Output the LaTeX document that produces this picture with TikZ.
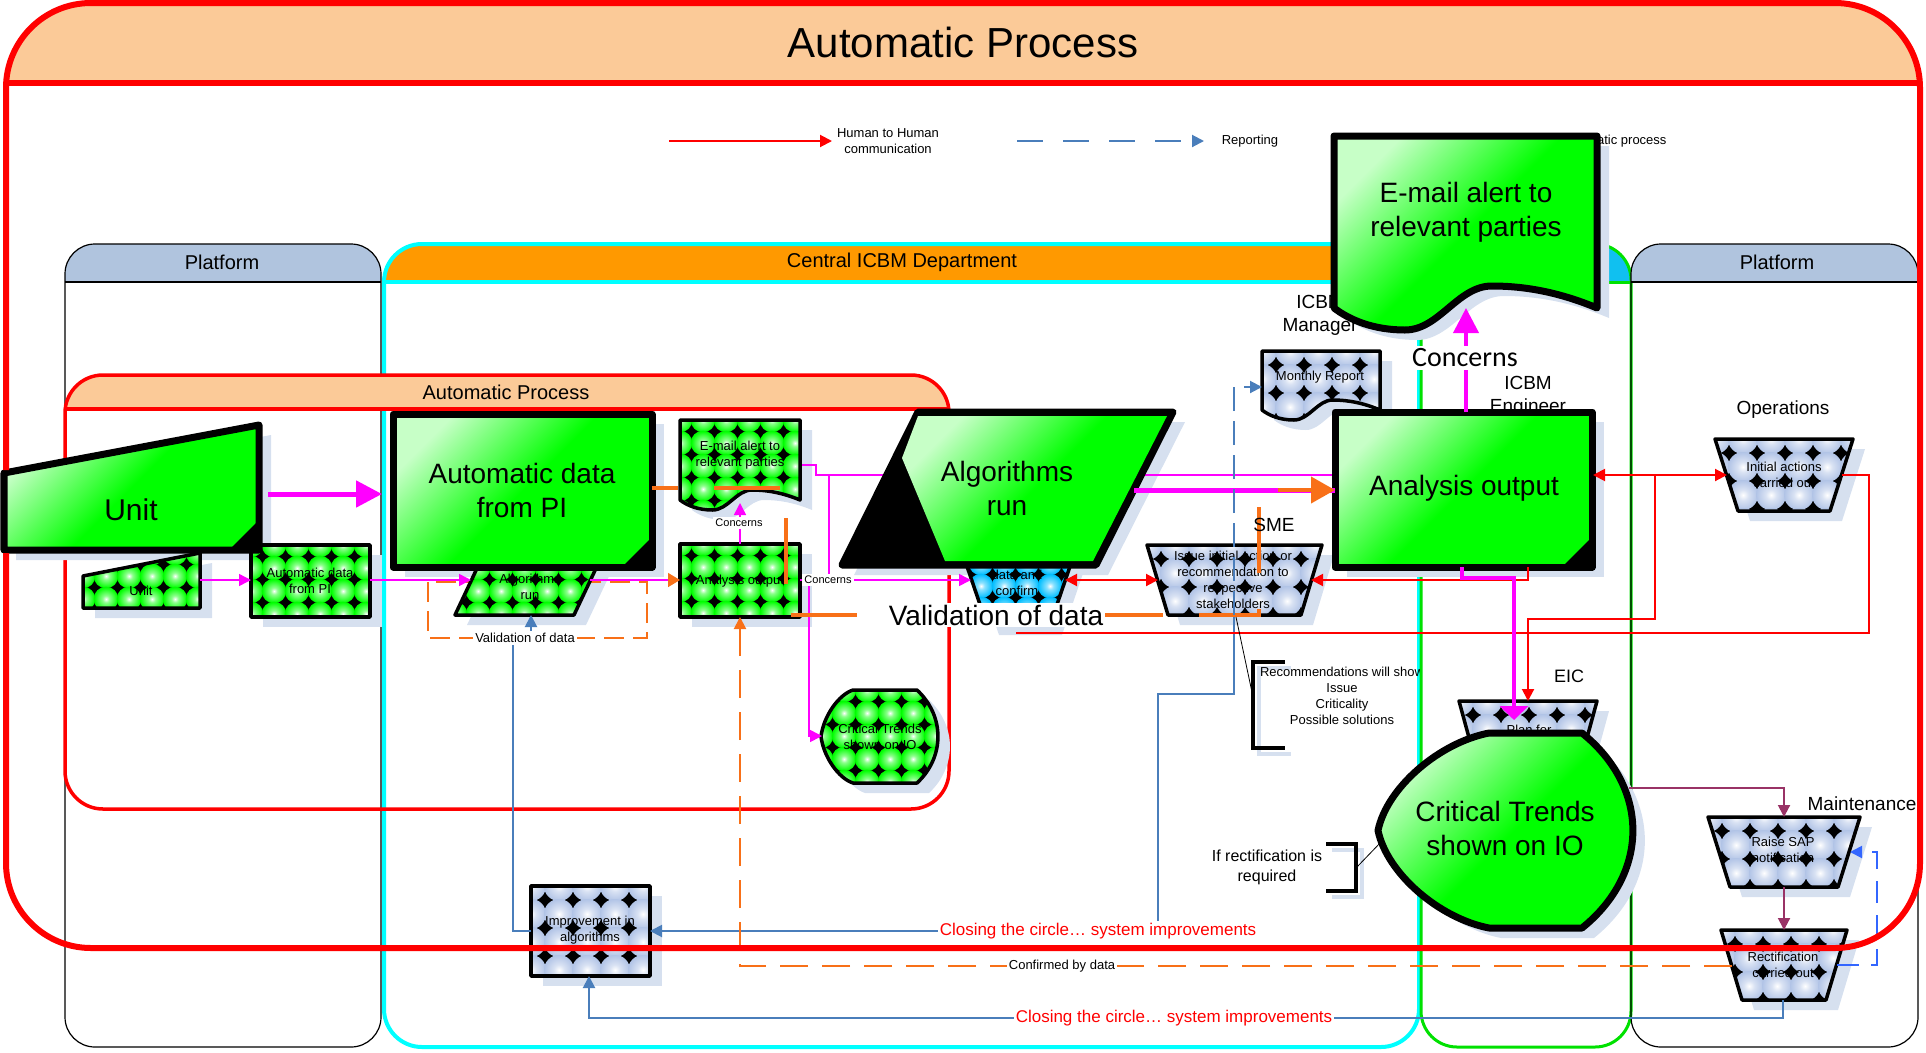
\documentclass[tikz,border=0pt]{standalone}
\usepackage{fontspec}
\setmainfont{Liberation Sans}
\newfontfamily\calibfont{Carlito}
\usetikzlibrary{arrows.meta}
\definecolor{peach}{RGB}{251,202,152}
\definecolor{hdblue}{RGB}{176,196,222}
\definecolor{hdorange}{RGB}{255,153,0}
\definecolor{hdsky}{RGB}{16,192,240}
\definecolor{lanecyan}{RGB}{0,255,255}
\definecolor{lanegreen}{RGB}{0,225,0}
\definecolor{shadowc}{RGB}{214,224,239}
\definecolor{lgreen}{RGB}{0,255,0}
\definecolor{ballblue}{RGB}{170,190,228}
\definecolor{ballsky}{RGB}{0,190,255}
\definecolor{mag}{RGB}{255,0,255}
\definecolor{orng}{RGB}{248,112,24}
\definecolor{rep}{RGB}{74,126,187}
\definecolor{dashblue}{RGB}{51,102,255}
\definecolor{maint}{RGB}{153,51,102}
\pgfdeclarelayer{lanes}
\pgfdeclarelayer{shd}
\pgfsetlayers{lanes,shd,main}
% bubbles for the pattern fills
\pgfdeclareradialshading{gball}{\pgfpoint{0bp}{0bp}}{color(0bp)=(white); color(7bp)=(lgreen!45!white); color(24bp)=(lgreen); color(50bp)=(lgreen!65!black)}
\pgfdeclareradialshading{bball}{\pgfpoint{0bp}{0bp}}{color(0bp)=(white); color(9bp)=(ballblue!45!white); color(28bp)=(ballblue); color(50bp)=(ballblue!65!black)}
\pgfdeclareradialshading{sball}{\pgfpoint{0bp}{0bp}}{color(0bp)=(white); color(7bp)=(ballsky!45!white); color(24bp)=(ballsky); color(50bp)=(ballsky!65!black)}
% shape with its drop shadow
\newcommand{\shp}[2]{\begin{pgfonlayer}{shd}\fill[shadowc,shift={(12,10)}] #2;\end{pgfonlayer} \path[#1] #2;}
% trapezoid: left, right, top y, inset, bottom y
\newcommand{\trap}[5]{(#1,#3) -- (#2,#3) -- ({#2-#4},#5) -- ({#1+#4},#5) -- cycle}
% document with wavy bottom: x0, x1, top, bottom, wave height
\newcommand{\docpath}[5]{(#1,#3) -- (#2,#3) -- (#2,#4)
  .. controls ({#2-0.14*(#2-#1)},{#4-0.7*#5}) and ({#1+0.73*(#2-#1)},{#4-#5}) .. ({#1+0.6*(#2-#1)},{#4-#5})
  .. controls ({#1+0.47*(#2-#1)},{#4-#5}) and ({#1+0.4*(#2-#1)},{#4+#5}) .. ({#1+0.27*(#2-#1)},{#4+#5})
  .. controls ({#1+0.15*(#2-#1)},{#4+#5}) and ({#1+0.06*(#2-#1)},{#4+0.55*#5}) .. (#1,#4) -- cycle}
% display shape: point x, flat start, flat end, right bulge, top, bottom
\newcommand{\disp}[6]{(#2,#5) -- (#3,#5)
  .. controls ({#3+1.33*(#4-#3)},{#5+0.28*(#6-#5)}) and ({#3+1.33*(#4-#3)},{#6-0.28*(#6-#5)}) .. (#3,#6) -- (#2,#6)
  .. controls ({#2-0.45*(#2-#1)},{#6-0.05*(#6-#5)}) and ({#1+0.08*(#2-#1)},{#6-0.28*(#6-#5)}) .. (#1,{(#5+#6)/2})
  .. controls ({#1+0.08*(#2-#1)},{#5+0.28*(#6-#5)}) and ({#2-0.45*(#2-#1)},{#5+0.05*(#6-#5)}) .. (#2,#5) -- cycle}

\begin{document}
\begin{tikzpicture}[x=1pt,y=-1pt,
  bigg/.style={draw=black,line width=7pt,line join=round,top color=green!22!white,bottom color=lgreen,middle color=lgreen,shading angle=45},
  balls/.style n args={4}{draw=black,line width=3.5pt,line join=round,path picture={
      \fill[black] (path picture bounding box.south west) rectangle (path picture bounding box.north east);
      \foreach \i in {0,...,9}{\foreach \j in {0,...,5}{
        \shade[shading=#1] ([xshift=\i*#2pt,yshift=-\j*#3pt]path picture bounding box.north west) circle[radius=#4pt];}}}},
  gballs/.style={balls={gball}{23}{23}{12.3}},
  bballs/.style={balls={bball}{28}{28}{15}},
  sballs/.style={balls={sball}{23}{23}{12.3}},
  st/.style={font=\fontsize{13}{16}\selectfont,align=center,inner sep=0pt},
  bt/.style={font=\fontsize{28}{34}\selectfont,align=center,inner sep=0pt},
  lbl/.style={font=\fontsize{19}{23}\selectfont,align=center,inner sep=1pt},
  wlbl/.style={fill=white,inner sep=2pt},
  hd/.style={font=\fontsize{20}{24}\selectfont},
  mg/.style={draw=mag,line width=1.5pt},
  rd/.style={draw=red,line width=2pt},
  bl/.style={draw=rep,line width=2pt},
  pu/.style={draw=maint,line width=2pt},
  ah/.style={-{Triangle[length=12pt,width=12pt]}},
  ahh/.style={{Triangle[length=12pt,width=12pt]}-{Triangle[length=12pt,width=12pt]}},
  brk/.style={draw=black,line width=4pt},
]
\useasboundingbox (0,0) rectangle (1926,1052);

\begin{pgfonlayer}{lanes}
% outer process band
\begin{scope}
  \clip[rounded corners=85pt] (6,3) rectangle (1920,948);
  \fill[peach] (0,0) rectangle (1926,82);
\end{scope}
\node[font=\fontsize{42}{46}\selectfont] (title) at (963,42) {Automatic Process};

% legend
\coordinate (lgHa) at (669,141); \coordinate (lgHb) at (832,141);
\draw[rd,ah] (lgHa) -- (lgHb);
\node[st] (lgH) at (888,141) {Human to Human\\communication};
\coordinate (lgRa) at (1017,141); \coordinate (lgRb) at (1204,141);
\draw[bl,dash pattern=on 26pt off 20pt,ah] (lgRa) -- (lgRb);
\node[st] (lgR) at (1250,141) {Reporting};
\node[st] (lgA) at (1613,141) {Automatic process};

% swimlanes
\begin{scope}
  \clip[rounded corners=30pt] (65,244) rectangle (381,1047);
  \fill[hdblue] (65,244) rectangle (381,282);
\end{scope}
\draw[line width=1.2pt,rounded corners=30pt] (65,244) rectangle (381,1047);
\draw[line width=1.2pt] (65,282) -- (381,282);
\node[hd] (platL) at (222,262) {Platform};

\begin{scope}
  \clip[rounded corners=38pt] (384,244) rectangle (1419,1047);
  \fill[hdorange] (384,244) rectangle (1419,282);
\end{scope}
\draw[lanecyan,line width=4pt,rounded corners=38pt] (384,244) rectangle (1419,1047);
\draw[lanecyan,line width=4pt] (384,282) -- (1419,282);
\node[hd] (central) at (902,262) {Central ICBM Department};

\begin{scope}
  \clip[rounded corners=36pt] (1421,244) rectangle (1631,1047);
  \fill[hdsky] (1421,244) rectangle (1631,282);
\end{scope}
\draw[lanegreen,line width=3pt,rounded corners=36pt] (1421,244) rectangle (1631,1047);
\draw[lanegreen,line width=3pt] (1421,282) -- (1631,282);

\begin{scope}
  \clip[rounded corners=30pt] (1631,244) rectangle (1918,1047);
  \fill[hdblue] (1631,244) rectangle (1918,282);
\end{scope}
\draw[line width=1.2pt,rounded corners=30pt] (1631,244) rectangle (1918,1047);
\draw[line width=1.2pt] (1631,282) -- (1918,282);
\node[hd] (platR) at (1777,262) {Platform};

% inner automatic process
\begin{scope}
  \clip[rounded corners=38pt] (65,375) rectangle (949,809);
  \fill[peach] (65,375) rectangle (949,409);
\end{scope}
\draw[red,line width=3.5pt,rounded corners=38pt] (65,375) rectangle (949,809);
\draw[red,line width=3.5pt] (65,409) -- (949,409);
\node[hd] (autoProc) at (506,392) {Automatic Process};
\end{pgfonlayer}

% connection points
\coordinate (unitB-e) at (259,494);  \coordinate (autoB-w) at (393,494);
\coordinate (autoB-e) at (652,488);
\coordinate (unitS-e) at (200,580);  \coordinate (autoS-w) at (251,580);
\coordinate (autoS-e) at (370,580);  \coordinate (algS-w) at (471,580);
\coordinate (algS-e) at (590,580);   \coordinate (algS-s) at (531,615);
\coordinate (emailS-e) at (800,465); \coordinate (emailS-s) at (740,503);
\coordinate (anaS-w) at (680,580);   \coordinate (anaS-e) at (800,580);
\coordinate (anaS-n) at (740,544);   \coordinate (anaS-s) at (740,617);
\coordinate (critS-w) at (822,736);
\coordinate (datS-w) at (971,580);   \coordinate (datS-e) at (1065,580);
\coordinate (algB-e) at (1134,490);
\coordinate (anaB-w) at (1335,475);  \coordinate (anaB-w2) at (1335,490);
\coordinate (anaB-n) at (1466,412);  \coordinate (anaB-s) at (1462,567);
\coordinate (anaB-s2) at (1528,567); \coordinate (anaB-e) at (1593,475);
\coordinate (emailB-s) at (1466,308);
\coordinate (monthS-w) at (1262,387);
\coordinate (issueS-w) at (1158,580); \coordinate (issueS-e) at (1311,580);
\coordinate (issueS-s) at (1234,615);
\coordinate (initS-w) at (1727,475); \coordinate (initS-e) at (1842,475);
\coordinate (planS-n) at (1528,701); \coordinate (planS-c) at (1514,720);
\coordinate (critB-e) at (1629,788); \coordinate (critB-w) at (1381,842);
\coordinate (raiseS-n) at (1784,817); \coordinate (raiseS-s) at (1784,887);
\coordinate (raiseS-e) at (1850,852);
\coordinate (rectS-n) at (1784,930); \coordinate (rectS-s) at (1783,1000);
\coordinate (rectS-w) at (1732,966); \coordinate (rectS-e) at (1837,965);
\coordinate (impS-w) at (531,931);   \coordinate (impS-e) at (650,931);
\coordinate (impS-s) at (589,976);
\coordinate (recBrk) at (1253,697);  \coordinate (ifBrk) at (1356,868);
\coordinate (redEnd) at (1016,633);

% connectors running behind the shapes
\draw[orng,line width=2pt,dash pattern=on 20pt off 9pt] (428,582) rectangle (647,638);
\draw[mg] (emailS-e) -- (816,465) -- (816,475) -- (anaB-w);
\draw[mg] (829,475) -- (829,580);

% labels partly hidden by shapes
\node[lbl] (icbmM) at (1320,315) {ICBM\\Manager};
\node[lbl] (icbmE) at (1528,396) {ICBM\\Engineer};

% small process shapes
\shp{gballs}{(83,576) -- (200,553) -- (200,608) -- (83,608) -- cycle}
\node[st] (unitS) at (141,591) {Unit};
\shp{gballs}{(251,545) rectangle (370,617)}
\node[st] (autoS) at (310,581) {Automatic data\\from PI};
\shp{gballs}{(455,615) -- (488,545) -- (607,545) -- (574,615) -- cycle}
\node[st] (algS) at (530,587) {Algorithms\\run};
\shp{gballs}{\docpath{680}{800}{420}{500}{10}}
\node[st] (emailS) at (740,455) {E-mail alert to\\relevant parties};
\shp{gballs}{(680,544) rectangle (800,617)}
\node[st] (anaS) at (740,581) {Analysis output};
\shp{gballs}{\disp{821}{853}{917}{938}{690}{783}}
\node[st] (critS) at (880,737) {Critical Trends\\shown on IO};
\shp{sballs}{\trap{958}{1079}{540}{29}{625}}
\node[st] (datS) at (1017,583) {data and\\confirm};

% big process shapes
\begin{pgfonlayer}{shd}
\fill[shadowc,shift={(12,10)}] (842,565) -- (918,412) -- (1173,412) -- (1096,565) -- cycle;
\end{pgfonlayer}
\filldraw[black,line width=7pt,line join=round] (842,565) -- (918,412) -- (1173,412) -- (1096,565) -- cycle;
\shade[top color=green!22!white,bottom color=lgreen,middle color=lgreen,shading angle=45]
  (918,416) -- (1167,416) -- (1093,561) -- (945,561) -- (902,458) -- cycle;
\node[bt] (algB) at (1007,488) {Algorithms\\run};

\shp{bigg}{(4,473) -- (259,425) -- (259,550) -- (4,550) -- cycle}
\fill[black] (229,550) -- (259,520) -- (259,550) -- cycle;
\node[bt,font=\fontsize{30}{34}\selectfont] (unitB) at (131,510) {Unit};

\shp{bigg}{(393,414) rectangle (652,567)}
\fill[black] (622,567) -- (652,537) -- (652,567) -- cycle;
\node[bt] (autoB) at (522,490) {Automatic data\\from PI};

\shp{bballs}{\docpath{1262}{1380}{351}{410}{10}}
\node[st] (monthS) at (1320,377) {Monthly Report};
\shp{bballs}{\trap{1147}{1322}{545}{21}{615}}
\node[st] (issueS) at (1233,580) {Issue initial action or\\recommendation to\\respective\\stakeholders};
\shp{bballs}{\trap{1715}{1853}{439}{23}{511}}
\node[st] (initS) at (1784,475) {Initial actions\\carried out};
\shp{bballs}{\trap{1708}{1860}{817}{22}{887}}
\node[st] (raiseS) at (1783,850) {Raise SAP\\notification};
\shp{bballs}{\trap{1721}{1847}{930}{21}{1000}}
\node[st] (rectS) at (1783,965) {Rectification\\carried out};
\shp{bballs}{(531,886) rectangle (650,976)}
\node[st] (impS) at (590,930) {Improvement in\\algorithms};
\shp{bballs}{\trap{1459}{1597}{701}{12}{745}}
\node[st] (planS) at (1529,730) {Plan for};

\shp{bigg}{\disp{1378}{1489}{1582}{1633}{733}{928}}
\node[bt] (critB) at (1505,828) {Critical Trends\\shown on IO};

\shp{bigg}{\docpath{1334}{1597}{136}{308}{22}}
\node[bt] (emailB) at (1466,212) {E-mail alert to\\relevant parties};

\shp{bigg}{(1335,412) rectangle (1592,567)}
\fill[black] (1562,567) -- (1592,537) -- (1592,567) -- cycle;
\node[bt] (anaB) at (1464,488) {Analysis output};

% connectors
\draw[mg,ah] (809,580) -- (809,736) -- (critS-w);
\draw[mg,ah] (anaS-e) -- (datS-w);
\draw[mg,ah] (unitS-e) -- (autoS-w);
\draw[mg,ah] (autoS-e) -- (algS-w);
\draw[mg,-{Triangle[length=12pt,width=14pt,color=orng]}] (algS-e) -- (anaS-w);
\draw[mg,ah] (anaS-n) -- (emailS-s);
\draw[bl,ah] (impS-w) -- (513,931) -- (513,632) -- (531,632) -- (algS-s);
\draw[bl,ah] (issueS-s) -- (1234,694) -- (1158,694) -- (1158,931) -- (impS-e);
\draw[bl,ah] (rectS-s) -- (1783,1018) -- (589,1018) -- (impS-s);
\draw[orng,line width=2pt,dash pattern=on 28pt off 14pt,ah] (rectS-w) -- (740,966) -- (anaS-s);
\draw[rd,ahh] (datS-e) -- (issueS-w);
\draw[rd,ah] (anaB-s2) -- (1528,580) -- (issueS-e);
\draw[rd,ahh] (anaB-e) -- (initS-w);
\draw[rd,ah] (1655,475) -- (1655,619) -- (1528,619) -- (planS-n);
\draw[rd] (initS-e) -- (1869,475) -- (1869,633) -- (redEnd);
\draw[pu,ah] (critB-e) -- (1784,788) -- (raiseS-n);
\draw[pu,ah] (raiseS-s) -- (rectS-n);
\draw[dashblue,line width=2pt,dash pattern=on 22pt off 12pt,ah] (rectS-e) -- (1877,965) -- (1877,852) -- (raiseS-e);
\draw[mag,line width=5pt] (algB-e) -- (anaB-w2);
\draw[orng,line width=4pt,dash pattern=on 66pt off 36pt,dash phase=40pt,-{Triangle[length=24pt,width=26pt]}]
  (autoB-e) -- (786,488) -- (786,615) -- (1259,615) -- (1259,490) -- (anaB-w2);
\draw[mag,line width=4pt,-{Triangle[length=14pt,width=28pt]}] (anaB-s) -- (1462,578) -- (1514,578) -- (planS-c);
\draw[mag,line width=4pt,-{Triangle[length=25pt,width=25pt]}] (anaB-n) -- (emailB-s);
\draw[mag,line width=5pt,-{Triangle[length=26pt,width=26pt]},shorten <=9pt,shorten >=11pt] (unitB-e) -- (autoB-w);
\draw[rep,line width=2pt,dash pattern=on 24pt off 10pt,ah] (issueS-s) -- (1234,387) -- (monthS-w);

% annotation brackets
\draw[line width=0.8pt] (1236,617) -- (recBrk);
\begin{pgfonlayer}{shd}
\draw[shadowc,line width=4pt,shift={(6,6)}] (1285,662) -- (1253,662) -- (1253,748) -- (1285,748);
\draw[shadowc,line width=4pt,shift={(6,6)}] (1326,844) -- (1356,844) -- (1356,891) -- (1326,891);
\end{pgfonlayer}
\draw[brk] (1285,662) -- (1253,662) -- (1253,748) -- (1285,748);
\draw[line width=0.8pt] (ifBrk) -- (critB-w);
\draw[brk] (1326,844) -- (1356,844) -- (1356,891) -- (1326,891);
\begin{scope}
  \clip (1200,650) rectangle (1419,760);
  \node[st] (recText) at (1342,696) {Recommendations will show\\Issue\\Criticality\\Possible solutions};
\end{scope}
\node[st,font=\fontsize{16}{20}\selectfont] (ifText) at (1267,867) {If rectification is\\required};

% labels
\node[font=\calibfont\fontsize{28}{32}\selectfont,fill=white,inner sep=3pt] (concB) at (1465,358) {Concerns};
\node[lbl] (ops) at (1783,410) {Operations};
\node[lbl] (sme) at (1274,525) {SME};
\node[lbl,font=\fontsize{18}{22}\selectfont] (eic) at (1569,676) {EIC};
\node[lbl] (maintL) at (1862,804) {Maintenance};
\node[st,wlbl] (valS) at (525,638) {Validation of data};
\node[bt,wlbl] (valB) at (996,615) {Validation of data};
\node[st,wlbl,font=\fontsize{11}{13}\selectfont] (concS1) at (739,523) {Concerns};
\node[st,wlbl,font=\fontsize{11}{13}\selectfont] (concS2) at (828,580) {Concerns};
\node[st,wlbl,text=red,font=\fontsize{17}{20}\selectfont] (close1) at (1098,931) {Closing the circle… system improvements};
\node[st,wlbl,text=red,font=\fontsize{17}{20}\selectfont] (close2) at (1174,1018) {Closing the circle… system improvements};
\node[st,wlbl] (confirm) at (1062,966) {Confirmed by data};

% outer frame on top
\draw[red,line width=6pt,rounded corners=85pt] (6,553) -- (6,948) -- (1920,948) -- (1920,3) -- (6,3) -- (6,470);
\draw[red,line width=6pt] (6,83) -- (1920,83);
\end{tikzpicture}
\end{document}
